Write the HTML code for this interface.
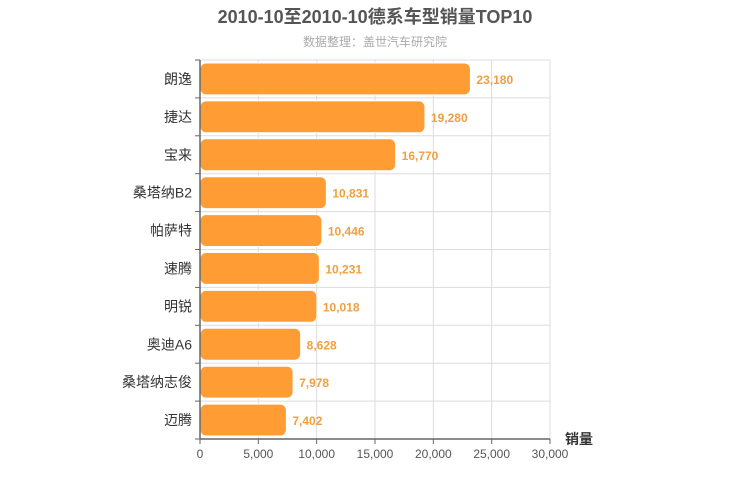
<!DOCTYPE html>
<html><head><meta charset="utf-8"><style>
body{margin:0;background:#fff;}
svg{display:block;font-family:"Liberation Sans","Noto Sans CJK SC",sans-serif;}
</style></head><body>
<svg id="c" width="750" height="500">
<text x="375" y="23" text-anchor="middle" font-size="18" font-weight="bold" fill="#555">2010-10至2010-10德系车型销量TOP10</text>
<text x="375" y="46" text-anchor="middle" font-size="12" fill="#aaa">数据整理：盖世汽车研究院</text>
<g id="grid"></g><g id="bars"></g><g id="axes"></g>
<text x="565" y="444" font-size="14" font-weight="bold" fill="#333">销量</text>
</svg>
<script>
const categories=["朗逸","捷达","宝来","桑塔纳B2","帕萨特","速腾","明锐","奥迪A6","桑塔纳志俊","迈腾"];
const values=[23180,19280,16770,10831,10446,10231,10018,8628,7978,7402];
const xTicks=[0,5000,10000,15000,20000,25000,30000];
const X0=200,X1=550,Y0=60,Y1=439,xMax=30000;
const ns="http://www.w3.org/2000/svg";
const x=v=>X0+(v/xMax)*(X1-X0);
const rowH=(Y1-Y0)/categories.length;
const y=i=>Y0+i*rowH;
function mk(tag,attrs,parent){const e=document.createElementNS(ns,tag);for(const k in attrs)e.setAttribute(k,attrs[k]);document.getElementById(parent).appendChild(e);return e;}
const fmt=v=>v.toLocaleString("en-US");
xTicks.forEach(t=>{
 const l=mk("line",{x1:x(t),x2:x(t),y1:Y0,y2:Y1,stroke:"#ddd"},"grid");
 
 
 const tx=mk("text",{x:x(t),y:Y1+19,"text-anchor":"middle","font-size":12,fill:"#555"},"axes");
 tx.textContent=fmt(t);
 
 
 mk("line",{x1:x(t),x2:x(t),y1:Y1,y2:Y1+5,stroke:"#666"},"axes");
});
categories.forEach((c,i)=>{
 const g=mk("line",{x1:X0,x2:X1,y1:y(i),y2:y(i),stroke:"#ddd"},"grid");
 
 
 mk("line",{x1:X0-5,x2:X0,y1:y(i),y2:y(i),stroke:"#666"},"axes");
 const r=mk("rect",{x:X0,y:y(i)+3,width:x(values[i])-X0,height:rowH-6,rx:6,fill:"#ff9c33",stroke:"#fff","stroke-width":1},"bars");
 
 
 const v=mk("text",{x:x(values[i])+6,y:y(i)+rowH/2+5,"font-size":12,"font-weight":"bold",fill:"#f0a040"},"bars");
 v.textContent=fmt(values[i]);
 
 
 const lb=mk("text",{x:X0-8,y:y(i)+rowH/2+5,"text-anchor":"end","font-size":14,fill:"#333"},"axes");
 lb.textContent=c;
 
 
});
mk("line",{x1:X0-5,x2:X0,y1:Y1,y2:Y1,stroke:"#666"},"axes");
const ya=mk("line",{x1:X0,x2:X0,y1:Y0,y2:Y1,stroke:"#666","stroke-width":1.5},"axes");


const xa=mk("line",{x1:X0,x2:X1,y1:Y1,y2:Y1,stroke:"#666","stroke-width":1.5},"axes");


</script>
</body></html>
